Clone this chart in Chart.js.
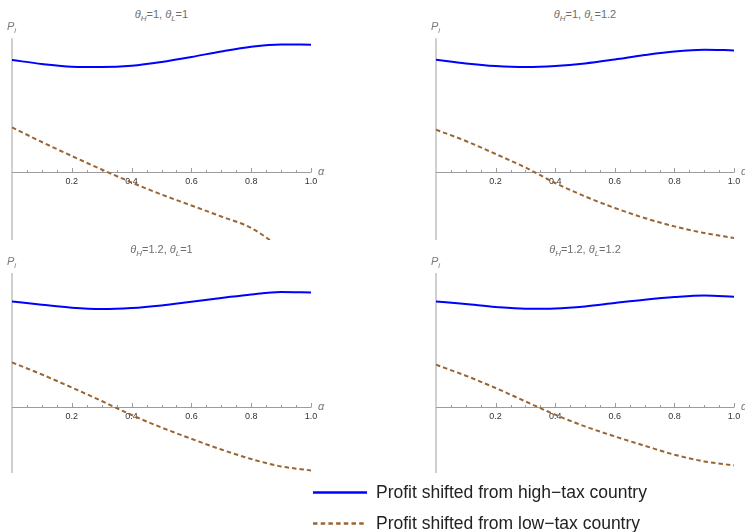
<!DOCTYPE html>
<html>
<head>
<meta charset="utf-8">
<script src="https://cdn.jsdelivr.net/npm/chart.js@4.4.0/dist/chart.umd.min.js"></script>
<style>
body { margin: 0; background: #fff; }
#wrap { position: relative; width: 745px; height: 532px; overflow: hidden; font-family: "Liberation Sans", Arial, sans-serif; }
canvas { position: absolute; }
.ttl { position: absolute; font-size: 11px; line-height: 12px; color: #6e6e6e; white-space: nowrap; transform: translateX(-50%); }
.lab { position: absolute; font-size: 11px; line-height: 12px; color: #7a7a7a; font-style: italic; white-space: nowrap; }
sub { font-size: 72%; vertical-align: -3px; line-height: 0; }
.leg { position: absolute; font-size: 17.5px; line-height: 20px; color: #222; white-space: nowrap; }
svg { position: absolute; left: 0; top: 0; }
</style>
</head>
<body>
<div id="wrap"></div>
<script>
// alpha grid shared by all four panels
const alphaValues = [0, 0.1, 0.2, 0.3, 0.4, 0.5, 0.6, 0.7, 0.8, 0.9, 1.0];
const tickLabels = ['0.2', '0.4', '0.6', '0.8', '1.0'];

// theta_H = 1, theta_L = 1
const highTax_1_1 = [1.12, 1.08, 1.053, 1.05, 1.063, 1.10, 1.15, 1.206, 1.253, 1.276, 1.273];
const lowTax_1_1 = [0.446, 0.30, 0.16, 0.025, -0.105, -0.225, -0.335, -0.445, -0.56, -0.76];
// theta_H = 1, theta_L = 1.2
const highTax_1_12 = [1.123, 1.086, 1.06, 1.05, 1.06, 1.086, 1.126, 1.17, 1.206, 1.223, 1.216];
const lowTax_1_12 = [0.423, 0.31, 0.18, 0.045, -0.11, -0.244, -0.36, -0.46, -0.544, -0.61, -0.66];
// theta_H = 1.2, theta_L = 1
const highTax_12_1 = [1.056, 1.023, 0.993, 0.98, 0.99, 1.016, 1.053, 1.09, 1.126, 1.15, 1.146];
const lowTax_12_1 = [0.446, 0.325, 0.195, 0.06, -0.08, -0.205, -0.318, -0.425, -0.52, -0.594, -0.634];
// theta_H = 1.2, theta_L = 1.2
const highTax_12_12 = [1.056, 1.03, 1.0, 0.983, 0.986, 1.006, 1.04, 1.073, 1.10, 1.116, 1.103];
const lowTax_12_12 = [0.423, 0.313, 0.19, 0.056, -0.077, -0.194, -0.294, -0.387, -0.477, -0.544, -0.584];

const seriesNames = ['Profit shifted from high\u2212tax country', 'Profit shifted from low\u2212tax country'];
const highColor = 'rgb(0, 0, 255)';
const lowColor = 'rgb(153, 102, 51)';

const panels = [
    { thH: '1', thL: '1', high: highTax_1_1, low: lowTax_1_1, box: [12, 311, 38, 240], yMin: -0.68, yMax: 1.34 },
    { thH: '1', thL: '1.2', high: highTax_1_12, low: lowTax_1_12, box: [436, 734, 38, 240], yMin: -0.68, yMax: 1.34 },
    { thH: '1.2', thL: '1', high: highTax_12_1, low: lowTax_12_1, box: [12, 311, 273, 473], yMin: -0.66, yMax: 1.34 },
    { thH: '1.2', thL: '1.2', high: highTax_12_12, low: lowTax_12_12, box: [436, 734, 273, 473], yMin: -0.66, yMax: 1.34 }
];

const wrap = document.getElementById('wrap');
const PAD = { left: 8, right: 12, top: 4, bottom: 4 };

// Mathematica-style axes: light y axis at alpha=0, x axis through zero with upward ticks
const axesPlugin = {
    id: 'mmaAxes',
    beforeDatasetsDraw(chart) {
        const { ctx, chartArea, scales } = chart;
        const x0 = scales.x.getPixelForValue(0);
        const y0 = scales.y.getPixelForValue(0);
        ctx.save();
        ctx.strokeStyle = '#c4c4c4';
        ctx.lineWidth = 1.6;
        ctx.beginPath();
        ctx.moveTo(x0, chartArea.top);
        ctx.lineTo(x0, chartArea.bottom);
        ctx.stroke();
        ctx.strokeStyle = '#9c9c9c';
        ctx.lineWidth = 1;
        ctx.beginPath();
        ctx.moveTo(x0, y0 + 0.5);
        ctx.lineTo(scales.x.getPixelForValue(1), y0 + 0.5);
        scales.x.ticks.forEach(t => {
            if (t.value <= 0) return;
            const px = Math.round(scales.x.getPixelForValue(t.value)) + 0.5;
            const major = Math.abs(t.value * 5 - Math.round(t.value * 5)) < 1e-6;
            ctx.moveTo(px, y0 + 0.5);
            ctx.lineTo(px, y0 + 0.5 - (major ? 4.5 : 2.5));
        });
        ctx.stroke();
        ctx.restore();
    }
};

panels.forEach(p => {
    const [left, right, top, bottom] = p.box;
    const canvas = document.createElement('canvas');
    canvas.width = right - left + PAD.left + PAD.right;
    canvas.height = bottom - top + PAD.top + PAD.bottom;
    canvas.style.left = (left - PAD.left) + 'px';
    canvas.style.top = (top - PAD.top) + 'px';
    wrap.appendChild(canvas);

    new Chart(canvas.getContext('2d'), {
        type: 'line',
        data: {
            datasets: [
                {
                    label: seriesNames[0],
                    data: p.high.map((v, i) => ({ x: alphaValues[i], y: v })),
                    borderColor: highColor,
                    borderWidth: 2,
                    pointRadius: 0,
                    cubicInterpolationMode: 'monotone'
                },
                {
                    label: seriesNames[1],
                    data: p.low.map((v, i) => ({ x: alphaValues[i], y: v })),
                    borderColor: lowColor,
                    borderWidth: 2,
                    borderDash: [4.5, 3],
                    pointRadius: 0,
                    cubicInterpolationMode: 'monotone'
                }
            ]
        },
        options: {
            responsive: false,
            animation: false,
            devicePixelRatio: 1,
            layout: { padding: PAD },
            plugins: { legend: { display: false }, tooltip: { enabled: false } },
            scales: {
                x: {
                    type: 'linear',
                    position: { y: 0 },
                    min: 0,
                    max: 1,
                    grid: { display: false, drawTicks: false, tickLength: 0 },
                    border: { display: false },
                    ticks: {
                        stepSize: 0.05,
                        autoSkip: false,
                        maxRotation: 0,
                        padding: 4,
                        color: '#333',
                        font: { family: 'Liberation Sans', size: 9 },
                        callback: v => {
                            const k = Math.round(v * 5);
                            return (k > 0 && Math.abs(v * 5 - k) < 1e-6) ? tickLabels[k - 1] : '';
                        }
                    }
                },
                y: {
                    display: false,
                    min: p.yMin,
                    max: p.yMax
                }
            }
        },
        plugins: [axesPlugin]
    });

    const title = document.createElement('div');
    title.className = 'ttl';
    title.style.left = ((left + right) / 2) + 'px';
    title.style.top = (top - 30) + 'px';
    title.innerHTML = '<i>\u03b8</i><sub><i>H</i></sub>=' + p.thH + ', <i>\u03b8</i><sub><i>L</i></sub>=' + p.thL;
    wrap.appendChild(title);

    const yLab = document.createElement('div');
    yLab.className = 'lab';
    yLab.style.left = (left - 5) + 'px';
    yLab.style.top = (top - 18) + 'px';
    yLab.innerHTML = 'P<sub>i</sub>';
    wrap.appendChild(yLab);

    const xLab = document.createElement('div');
    xLab.className = 'lab';
    xLab.style.left = (right + 7) + 'px';
    xLab.style.top = (top + (bottom - top) * p.yMax / (p.yMax - p.yMin) - 7) + 'px';
    xLab.textContent = '\u03b1';
    wrap.appendChild(xLab);
});

// legend below the grid
const svgNS = 'http://www.w3.org/2000/svg';
const svg = document.createElementNS(svgNS, 'svg');
svg.setAttribute('width', 745);
svg.setAttribute('height', 532);
[[313, 367, 492.5, highColor, null], [313, 365, 523.5, lowColor, '4.5 3.2']].forEach(([x1, x2, y, c, dash]) => {
    const ln = document.createElementNS(svgNS, 'line');
    ln.setAttribute('x1', x1); ln.setAttribute('x2', x2);
    ln.setAttribute('y1', y); ln.setAttribute('y2', y);
    ln.setAttribute('stroke', c);
    ln.setAttribute('stroke-width', 2.5);
    if (dash) ln.setAttribute('stroke-dasharray', dash);
    svg.appendChild(ln);
});
wrap.appendChild(svg);

seriesNames.forEach((name, i) => {
    const d = document.createElement('div');
    d.className = 'leg';
    d.style.left = '376px';
    d.style.top = (i === 0 ? 482 : 513) + 'px';
    d.textContent = name;
    wrap.appendChild(d);
});
</script>
</body>
</html>
